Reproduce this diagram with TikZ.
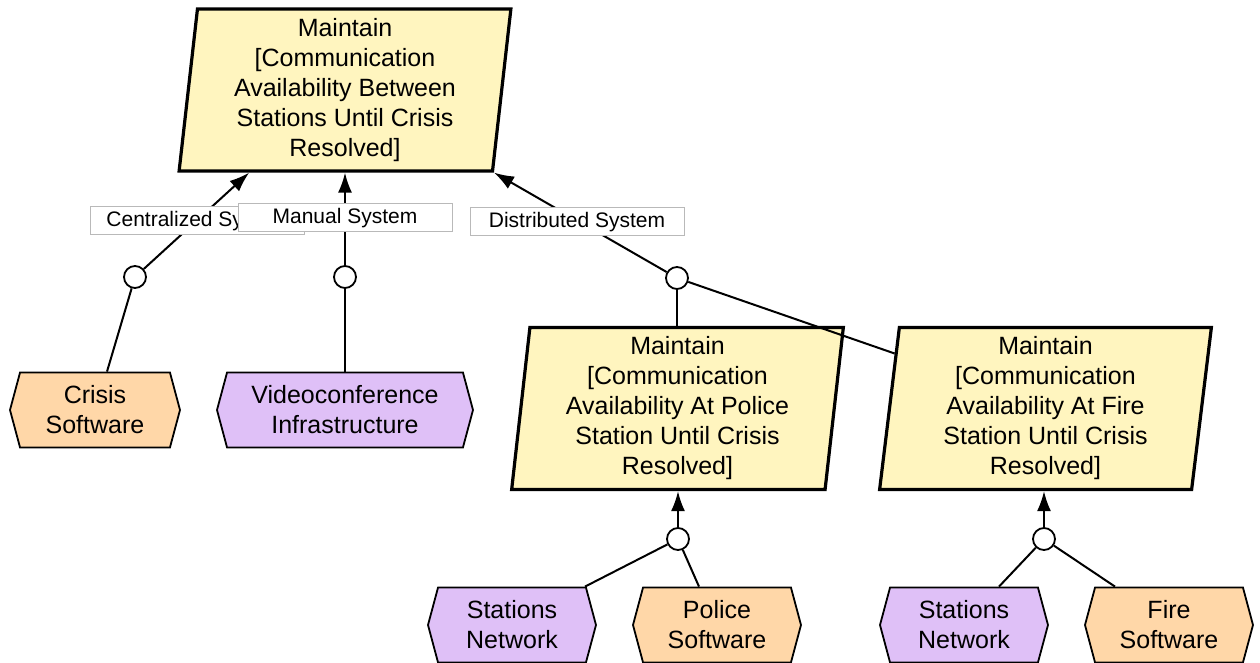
\documentclass[tikz,border=0pt]{standalone}
\usepackage{fontspec}
\setmainfont{Liberation Sans}
\usetikzlibrary{shapes.geometric,shapes.symbols,arrows.meta,calc}
\definecolor{goalfill}{HTML}{FFF5BF}
\definecolor{agentfill}{HTML}{DFC0F7}
\definecolor{softfill}{HTML}{FFD7A8}
\begin{document}
\begin{tikzpicture}[x=0.5pt,y=-0.5pt,
  goal/.style={trapezium, trapezium left angle=84.5, trapezium right angle=95.5,
    trapezium stretches=true, draw, line width=1.6pt, fill=goalfill,
    minimum width=166pt, minimum height=81pt, inner sep=0pt, align=center,
    font=\fontsize{12.5}{15}\selectfont},
  hexa/.style={signal, signal to=west and east, signal pointer angle=150, draw,
    line width=0.9pt, minimum height=37.5pt, inner sep=0pt, align=center,
    font=\fontsize{12.5}{15}\selectfont},
  agent/.style={hexa, fill=agentfill},
  soft/.style={hexa, fill=softfill},
  refine/.style={circle, draw, fill=white, line width=0.9pt, minimum size=11pt, inner sep=0pt},
  link/.style={line width=1pt},
  tolink/.style={link, -{Latex[length=10pt,width=7pt]}},
  tag/.style={draw=gray!55, line width=0.5pt, fill=white, minimum width=107pt,
    minimum height=14pt, inner sep=0pt, font=\fontsize{10.5}{12}\selectfont}
]
\useasboundingbox (0,0) rectangle (1260,663);

% goals
\node[goal] (top) at (345,90) {Maintain\\{[}Communication\\Availability Between\\Stations Until Crisis\\Resolved]};
\node[goal] (police) at (677.5,408.5) {Maintain\\{[}Communication\\Availability At Police\\Station Until Crisis\\Resolved]};
\node[goal] (fire) at (1045.5,408.5) {Maintain\\{[}Communication\\Availability At Fire\\Station Until Crisis\\Resolved]};

% agents and software
\node[soft, minimum width=85pt] (crisis) at (95,410) {Crisis\\Software};
\node[agent, minimum width=128pt] (video) at (345,410) {Videoconference\\Infrastructure};
\node[agent, minimum width=84pt] (netp) at (512,625) {Stations\\Network};
\node[soft, minimum width=84pt] (polsw) at (717,625) {Police\\Software};
\node[agent, minimum width=84pt] (netf) at (964,625) {Stations\\Network};
\node[soft, minimum width=84pt] (firesw) at (1169,625) {Fire\\Software};

% refinement circles
\node[refine] (rc) at (135,277) {};
\node[refine] (rm) at (345,277) {};
\node[refine] (rd) at (677,278) {};
\node[refine] (rp) at (678,539) {};
\node[refine] (rf) at (1044,539) {};

% alternatives of the top goal
\draw[tolink] (rc) -- ($(top.bottom left corner)!0.227!(top.bottom right corner)$);
\draw[tolink] (rm) -- (rm |- top.south);
\draw[tolink] (rd) -- (top.bottom right corner);

\draw[link] (rc) -- ([xshift=6pt]crisis.north);
\draw[link] (rm) -- (video.north);
\draw[link] (rd) -- (rd |- police.north);
\draw[link] (rd) -- ($(fire.top left corner)!0.167!(fire.bottom left corner)$);

% refinements of the station goals
\draw[tolink] (rp) -- (rp |- police.south);
\draw[link] (rp) -- ([xshift=36.5pt]netp.north);
\draw[link] (rp) -- ([xshift=-9pt]polsw.north);
\draw[tolink] (rf) -- (rf |- fire.south);
\draw[link] (rf) -- ([xshift=17.5pt]netf.north);
\draw[link] (rf) -- ([xshift=-27pt]firesw.north);

% alternative labels
\node[tag] (lc) at (197.5,221) {Centralized System};
\node[tag] (lm) at (345,218) {Manual System};
\node[tag] (ld) at (577,222) {Distributed System};
\end{tikzpicture}
\end{document}
